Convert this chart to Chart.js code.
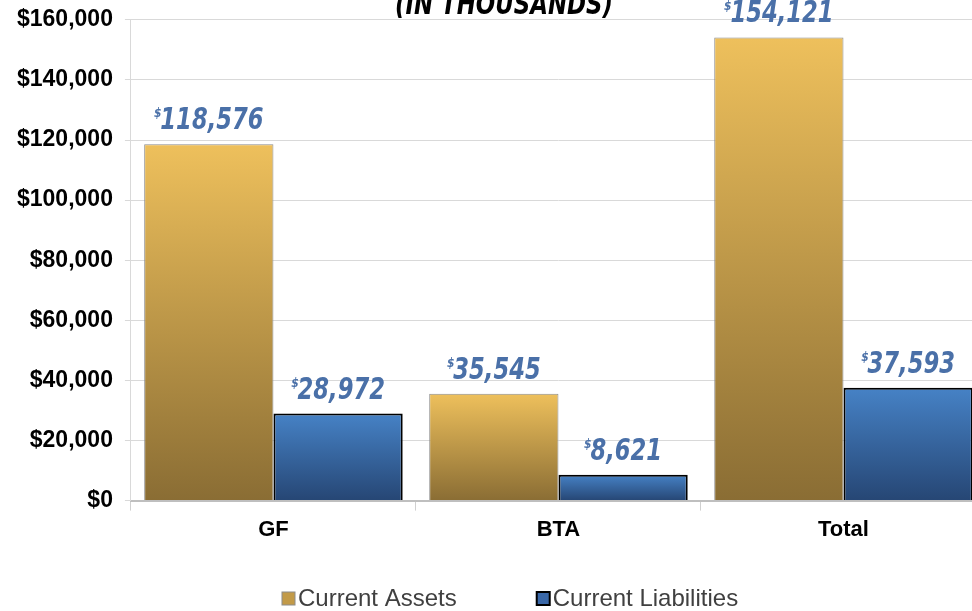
<!DOCTYPE html>
<html>
<head>
<meta charset="utf-8">
<script src="https://cdn.jsdelivr.net/npm/chart.js@4.4.1/dist/chart.umd.min.js"></script>
<style>
    html, body { margin: 0; padding: 0; background: #fff; overflow: hidden; }
    #wrap { position: relative; width: 1000px; height: 617px; margin-top: -6px; }
</style>
</head>
<body>
<div id="wrap"><canvas id="mainChart"></canvas></div>
<script>
const categories = ['GF', 'BTA', 'Total'];
const currentAssets = [118576, 35545, 154121];
const currentLiabilities = [28972, 8621, 37593];
const yTicks = [0, 20000, 40000, 60000, 80000, 100000, 120000, 140000, 160000];
const chartTitle = '(IN THOUSANDS)';

const handFont = "'DejaVu Sans Condensed', 'DejaVu Sans', sans-serif";
const legendColors = ['#c29a48', '#3a68a8'];

// vertical gradient per bar, from its top down to zero
function barGradient(top, bottom) {
    return (context) => {
        const chart = context.chart;
        if (!chart.chartArea || context.raw === undefined) return bottom;
        const y = chart.scales.y;
        const g = chart.ctx.createLinearGradient(0, y.getPixelForValue(context.raw), 0, y.getPixelForValue(0));
        g.addColorStop(0, top);
        g.addColorStop(1, bottom);
        return g;
    };
}

const valueLabels = {
    id: 'valueLabels',
    afterDatasetsDraw(chart) {
        const ctx = chart.ctx;
        const sx = 0.84;
        ctx.save();
        ctx.fillStyle = '#4a70a8';
        ctx.textBaseline = 'alphabetic';
        ctx.textAlign = 'left';
        chart.data.datasets.forEach((ds, i) => {
            chart.getDatasetMeta(i).data.forEach((bar, j) => {
                const num = ds.data[j].toLocaleString('en-US');
                ctx.font = 'italic bold 12px ' + handFont;
                const wd = ctx.measureText('$').width * sx;
                ctx.font = 'italic bold 30px ' + handFont;
                const wn = ctx.measureText(num).width * sx;
                const x0 = bar.x - (wd + wn) / 2;
                const base = bar.y - 15;
                ctx.save();
                ctx.translate(x0 + wd, base);
                ctx.scale(sx, 1);
                ctx.fillText(num, 0, 0);
                ctx.restore();
                ctx.font = 'italic bold 12px ' + handFont;
                ctx.fillText('$', x0, base - 12);
            });
        });
        ctx.restore();
    }
};

const topTitle = {
    id: 'topTitle',
    afterDraw(chart) {
        const ctx = chart.ctx;
        ctx.save();
        ctx.fillStyle = '#000';
        ctx.font = 'italic bold 31px ' + handFont;
        ctx.textAlign = 'center';
        ctx.textBaseline = 'alphabetic';
        ctx.translate(504, 20);
        ctx.scale(0.82, 1);
        ctx.fillText(chartTitle, 0, 0);
        ctx.restore();
    }
};

// legend drawn by hand so the item spacing can follow the original
const bottomLegend = {
    id: 'bottomLegend',
    afterDraw(chart) {
        const ctx = chart.ctx;
        ctx.save();
        ctx.font = "24px 'Liberation Sans', Arial";
        ctx.textBaseline = 'middle';
        ctx.textAlign = 'left';
        let x = 282;
        const yc = 605;
        chart.data.datasets.forEach((ds, i) => {
            ctx.fillStyle = legendColors[i];
            ctx.fillRect(x, yc - 7, 13, 13);
            ctx.lineWidth = i === 0 ? 1 : 2;
            ctx.strokeStyle = i === 0 ? '#8c8c8c' : '#000';
            ctx.strokeRect(x, yc - 7, 13, 13);
            ctx.fillStyle = '#404040';
            ctx.fillText(ds.label, x + 16, yc);
            x += 16 + ctx.measureText(ds.label).width + 80;
        });
        ctx.restore();
    }
};

const ctx = document.getElementById('mainChart').getContext('2d');
new Chart(ctx, {
    type: 'bar',
    data: {
        labels: categories,
        datasets: [{
            label: 'Current Assets',
            data: currentAssets,
            backgroundColor: barGradient('#eec05c', '#8a6d34'),
            borderColor: '#8c8c8c',
            borderWidth: 1,
            categoryPercentage: 0.907,
            barPercentage: 1.0
        }, {
            label: 'Current Liabilities',
            data: currentLiabilities,
            backgroundColor: barGradient('#4682c6', '#264674'),
            borderColor: '#000000',
            borderWidth: 2,
            categoryPercentage: 0.907,
            barPercentage: 1.0
        }]
    },
    options: {
        responsive: true,
        maintainAspectRatio: false,
        animation: false,
        layout: { padding: { top: 13, right: 14, left: 5, bottom: 62 } },
        scales: {
            x: {
                grid: { display: true, drawOnChartArea: false, drawTicks: true, tickLength: 10, offset: true, color: '#d0d0d0' },
                border: { color: '#bfbfbf', width: 2 },
                ticks: { color: '#000', font: { family: "'Liberation Sans', Arial", size: 22, weight: 'bold' }, padding: 6 }
            },
            y: {
                min: 0,
                max: 160000,
                afterBuildTicks: (axis) => { axis.ticks = yTicks.map(v => ({ value: v })); },
                grid: { color: '#d9d9d9', tickLength: 6 },
                border: { color: '#d9d9d9' },
                ticks: {
                    color: '#000',
                    padding: 12,
                    font: { family: "'Liberation Sans', Arial", size: 23, weight: 'bold' },
                    callback: (v) => '$' + Number(v).toLocaleString('en-US')
                }
            }
        },
        plugins: {
            title: { display: false },
            tooltip: { enabled: false },
            legend: { display: false }
        }
    },
    plugins: [valueLabels, topTitle, bottomLegend]
});
</script>
</body>
</html>
